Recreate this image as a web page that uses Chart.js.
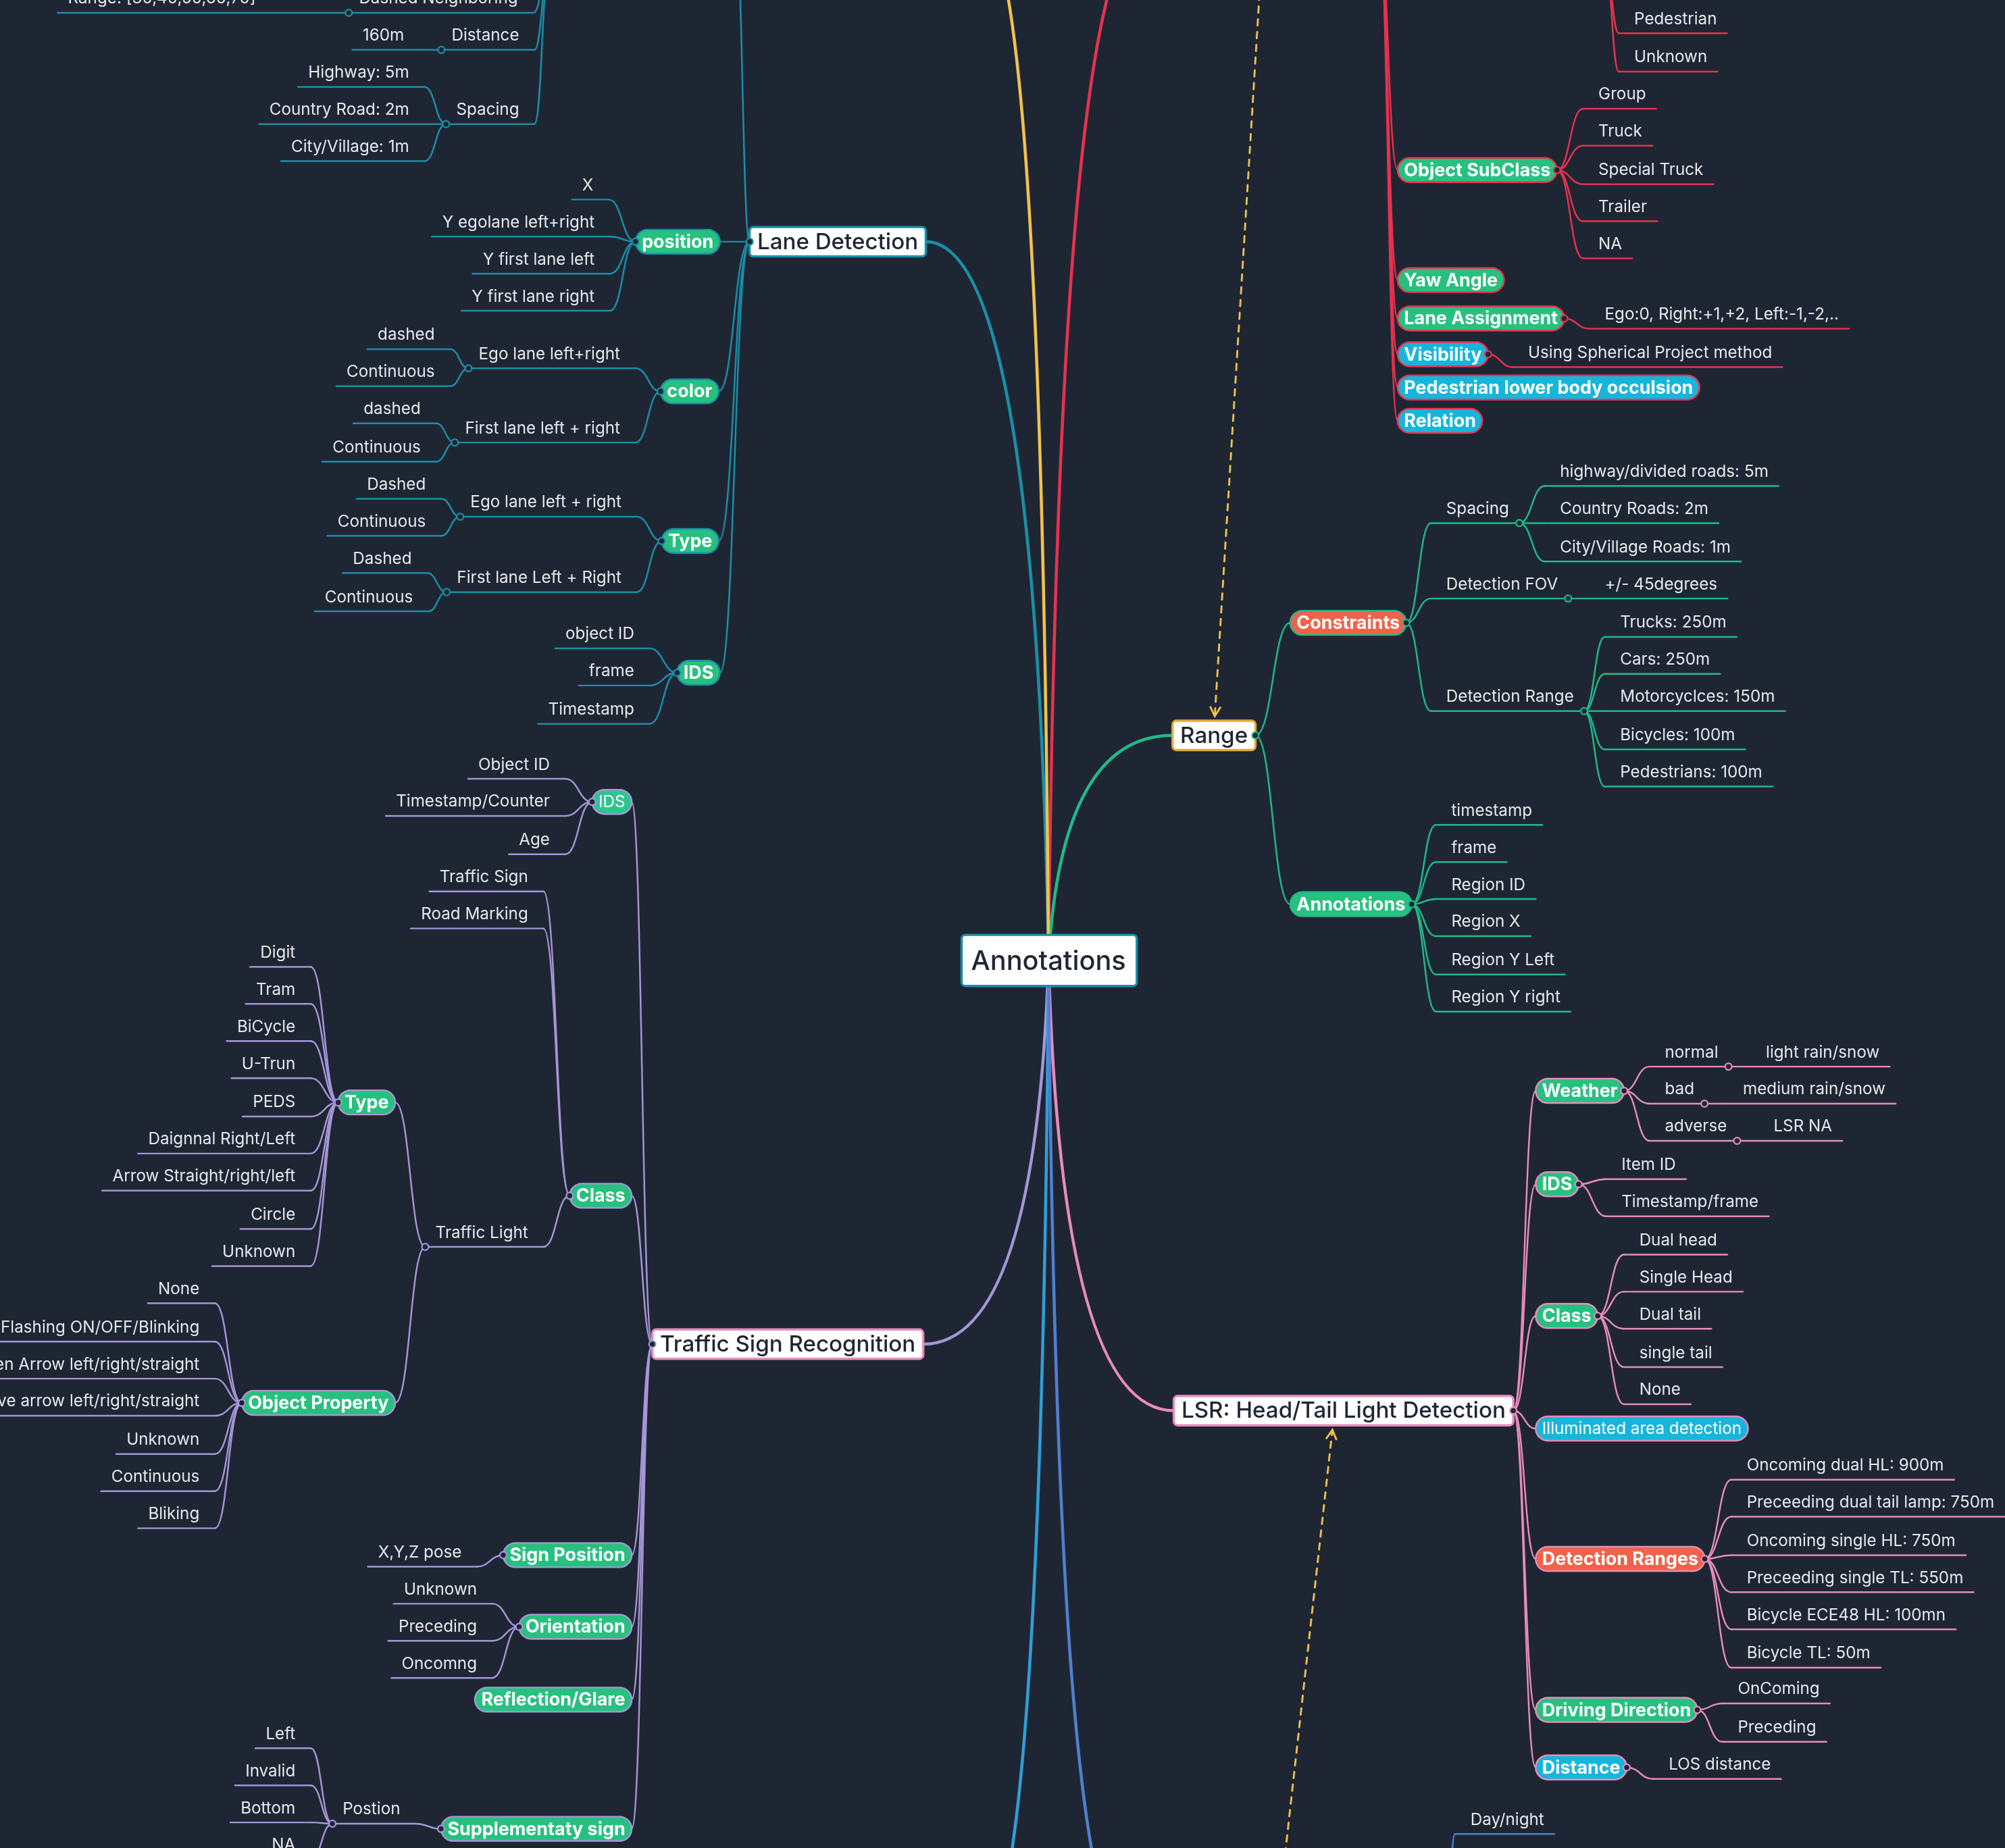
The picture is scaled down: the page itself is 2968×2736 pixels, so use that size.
<!DOCTYPE html>
<html>
<head>
<meta charset="utf-8">
<script src="https://cdn.jsdelivr.net/npm/chart.js@4"></script>
<style>
  body { margin: 0; background: #1f2633; }
  #wrap { position: relative; width: 2968px; height: 2736px; }
</style>
</head>
<body>
<div id="wrap"><canvas id="map"></canvas></div>
<script>
// map coordinates are in reference units (1568 x 1445), scaled by the chart's axes
const GREEN = '#27c07f', RED = '#f0624a', CYAN = '#17b5dc', LGREEN = '#2fc48f';

const rootNode = ['Annotations', 820, 751];

// [label, x, y, parent, kind, side, fill / out-x for hidden]
const laneNodes = [
  ['Lane Detection', 724, 189, -1, 'box', 'L'],
  ['', 575, -60, 0, 'hid', 'L'],
  ['', 430, -30, 1, 'hid', 'L'],
  ['Dashed Neighboring', 405, -1, 2],
  ['Range: [30,40,50,60,70]', 200, -1, 3],
  ['Distance', 406, 28, 2],
  ['160m', 316, 28, 5],
  ['Spacing', 406, 86, 2],
  ['Highway: 5m', 320, 57, 7],
  ['Country Road: 2m', 320, 86, 7],
  ['City/Village: 1m', 320, 115, 7],
  ['position', 563, 189, 0, 'pill', 'L', GREEN],
  ['X', 464, 145, 11],
  ['Y egolane left+right', 465, 174, 11],
  ['Y first lane left', 465, 203, 11],
  ['Y first lane right', 465, 232, 11],
  ['color', 562, 306, 0, 'pill', 'L', GREEN],
  ['Ego lane left+right', 485, 277, 16],
  ['dashed', 340, 262, 17],
  ['Continuous', 340, 291, 17],
  ['First lane left + right', 485, 335, 16],
  ['dashed', 329, 320, 20],
  ['Continuous', 329, 350, 20],
  ['Type', 562, 423, 0, 'pill', 'L', GREEN],
  ['Ego lane left + right', 486, 393, 23],
  ['Dashed', 333, 379, 24],
  ['Continuous', 333, 408, 24],
  ['First lane Left + Right', 486, 452, 23],
  ['Dashed', 322, 437, 27],
  ['Continuous', 323, 467, 27],
  ['IDS', 563, 526, 0, 'pill', 'L', GREEN],
  ['object ID', 496, 496, 30],
  ['frame', 496, 525, 30],
  ['Timestamp', 496, 555, 30]
];

const tsrNodes = [
  ['Traffic Sign Recognition', 722, 1051, -1, 'box', 'L'],
  ['IDS', 494, 627, 0, 'pillN', 'L', LGREEN],
  ['Object ID', 430, 598, 1],
  ['Timestamp/Counter', 430, 627, 1],
  ['Age', 430, 657, 1],
  ['Class', 494, 935, 0, 'pill', 'L', GREEN],
  ['Traffic Sign', 413, 686, 5],
  ['Road Marking', 413, 715, 5],
  ['Traffic Light', 413, 964, 5],
  ['Type', 309, 862, 8, 'pill', 'L', GREEN],
  ['Digit', 231, 745, 9],
  ['Tram', 231, 774, 9],
  ['BiCycle', 231, 803, 9],
  ['U-Trun', 231, 832, 9],
  ['PEDS', 231, 862, 9],
  ['Daignnal Right/Left', 231, 891, 9],
  ['Arrow Straight/right/left', 231, 920, 9],
  ['Circle', 231, 950, 9],
  ['Unknown', 231, 979, 9],
  ['Object Property', 309, 1097, 8, 'pill', 'L', GREEN],
  ['None', 156, 1008, 19],
  ['Flashing ON/OFF/Blinking', 156, 1038, 19],
  ['Green Arrow left/right/straight', 156, 1067, 19],
  ['Above arrow left/right/straight', 156, 1096, 19],
  ['Unknown', 156, 1126, 19],
  ['Continuous', 156, 1155, 19],
  ['Bliking', 156, 1184, 19],
  ['Sign Position', 494, 1216, 0, 'pill', 'L', GREEN],
  ['X,Y,Z pose', 361, 1214, 27],
  ['Orientation', 494, 1272, 0, 'pill', 'L', GREEN],
  ['Unknown', 373, 1243, 29],
  ['Preceding', 373, 1272, 29],
  ['Oncomng', 373, 1301, 29],
  ['Reflection/Glare', 494, 1329, 0, 'pill', 'L', GREEN],
  ['Supplementaty sign', 494, 1430, 0, 'pill', 'L', GREEN],
  ['Postion', 313, 1415, 34],
  ['Left', 231, 1356, 35],
  ['Invalid', 231, 1385, 35],
  ['Bottom', 231, 1414, 35],
  ['NA', 231, 1443, 35]
];

const objectNodes = [
  ['', 900, -60, -1, 'hid', 'R', 1078],
  ['', 1200, -30, 0, 'hid', 'R', 1255],
  ['Pedestrian', 1278, 15, 1],
  ['Unknown', 1278, 45, 1],
  ['Object SubClass', 1093, 133, 0, 'pill', 'R', GREEN],
  ['Group', 1250, 74, 4],
  ['Truck', 1250, 103, 4],
  ['Special Truck', 1250, 133, 4],
  ['Trailer', 1250, 162, 4],
  ['NA', 1250, 191, 4],
  ['Yaw Angle', 1093, 219, 0, 'pill', 'R', GREEN],
  ['Lane Assignment', 1093, 249, 0, 'pill', 'R', GREEN],
  ['Ego:0, Right:+1,+2, Left:-1,-2,..', 1255, 246, 11],
  ['Visibility', 1093, 277, 0, 'pill', 'R', CYAN],
  ['Using Spherical Project method', 1195, 276, 13],
  ['Pedestrian lower body occulsion', 1093, 303, 0, 'pill', 'R', CYAN],
  ['Relation', 1093, 329, 0, 'pill', 'R', CYAN]
];

const rangeNodes = [
  ['Range', 917, 575, -1, 'box', 'R'],
  ['Constraints', 1009, 487, 0, 'pill', 'R', RED],
  ['Spacing', 1131, 398, 1],
  ['highway/divided roads: 5m', 1220, 369, 2],
  ['Country Roads: 2m', 1220, 398, 2],
  ['City/Village Roads: 1m', 1220, 428, 2],
  ['Detection FOV', 1131, 457, 1],
  ['+/- 45degrees', 1255, 457, 6],
  ['Detection Range', 1131, 545, 1],
  ['Trucks: 250m', 1267, 487, 8],
  ['Cars: 250m', 1267, 516, 8],
  ['Motorcyclces: 150m', 1267, 545, 8],
  ['Bicycles: 100m', 1267, 575, 8],
  ['Pedestrians: 100m', 1267, 604, 8],
  ['Annotations', 1009, 707, 0, 'pill', 'R', GREEN],
  ['timestamp', 1135, 634, 14],
  ['frame', 1135, 663, 14],
  ['Region ID', 1135, 692, 14],
  ['Region X', 1135, 721, 14],
  ['Region Y Left', 1135, 751, 14],
  ['Region Y right', 1135, 780, 14]
];

const lsrNodes = [
  ['LSR: Head/Tail Light Detection', 918, 1103, -1, 'box', 'R'],
  ['Weather', 1201, 853, 0, 'pill', 'R', GREEN],
  ['normal', 1302, 823, 1],
  ['bad', 1302, 852, 1],
  ['adverse', 1302, 881, 1],
  ['light rain/snow', 1381, 823, 2],
  ['medium rain/snow', 1363, 852, 3],
  ['LSR NA', 1387, 881, 4],
  ['IDS', 1201, 926, 0, 'pill', 'R', GREEN],
  ['Item ID', 1268, 911, 8],
  ['Timestamp/frame', 1268, 940, 8],
  ['Class', 1201, 1029, 0, 'pill', 'R', GREEN],
  ['Dual head', 1282, 970, 11],
  ['Single Head', 1282, 999, 11],
  ['Dual tail', 1282, 1028, 11],
  ['single tail', 1282, 1058, 11],
  ['None', 1282, 1087, 11],
  ['Illuminated area detection', 1201, 1117, 0, 'pillN', 'R', CYAN],
  ['Detection Ranges', 1201, 1219, 0, 'pill', 'R', RED],
  ['Oncoming dual HL: 900m', 1366, 1146, 18],
  ['Preceeding dual tail lamp: 750m', 1366, 1175, 18],
  ['Oncoming single HL: 750m', 1366, 1205, 18],
  ['Preceeding single TL: 550m', 1366, 1234, 18],
  ['Bicycle ECE48 HL: 100mn', 1366, 1263, 18],
  ['Bicycle TL: 50m', 1366, 1293, 18],
  ['Driving Direction', 1201, 1337, 0, 'pill', 'R', GREEN],
  ['OnComing', 1359, 1321, 25],
  ['Preceding', 1359, 1351, 25],
  ['Distance', 1201, 1382, 0, 'pill', 'R', CYAN],
  ['LOS distance', 1305, 1380, 28]
];

const yellowNodes = [['', 765, -60, -1, 'hid', 'L']];
const blueNodes = [['', 765, 1520, -1, 'hid', 'L']];
const blue2Nodes = [
  ['', 885, 1520, -1, 'hid', 'R', 1130],
  ['Day/night', 1150, 1423, 0]
];

const branches = [
  { nodes: laneNodes, color: '#1a8fa8', border: '#1a8fa8' },
  { nodes: tsrNodes, color: '#a596d8', border: '#e58cbc' },
  { nodes: objectNodes, color: '#e8324f', border: '#e8324f' },
  { nodes: rangeNodes, color: '#1fba8a', border: '#e3aa3a' },
  { nodes: lsrNodes, color: '#e78cbc', border: '#e78cbc' },
  { nodes: yellowNodes, color: '#f2c14e' },
  { nodes: blueNodes, color: '#2f9fd8' },
  { nodes: blue2Nodes, color: '#4f7fd0' }
];

// dashed relationship arrows [from, to]
const arrowFrom = [[985, -5], [1005, 1450]];
const arrowTo = [[950, 560], [1042, 1118]];

const BG = '#1f2633', TXT = '#e6e8ec';
const FONTS = { text: [400, 12.8], pill: [700, 14.2], pillN: [400, 12.8], box: [500, 17.5], hid: [400, 12] };

const mindMap = {
  id: 'mindMap',
  beforeDraw(chart) {
    const c = chart.ctx;
    c.save(); c.fillStyle = BG; c.fillRect(0, 0, chart.width, chart.height); c.restore();
  },
  afterDraw(chart) {
    const c = chart.ctx, sx = chart.scales.x, sy = chart.scales.y;
    const X = v => sx.getPixelForValue(v), Y = v => sy.getPixelForValue(v);
    const k = (X(1568) - X(0)) / 1568;
    const font = kind => { const f = FONTS[kind]; return f[0] + ' ' + (f[1] * k) + 'px Inter, "Noto Sans", sans-serif'; };

    // geometry of every node, in map units
    const all = [];
    branches.forEach(b => {
      const base = [];
      b.nodes.forEach((n, i) => {
        const parent = n[3] >= 0 ? base[n[3]] : null;
        const g = { label: n[0], x: n[1], y: n[2], parent, kind: n[4] || 'text',
          side: n[5] || (parent ? parent.side : 'R'), fill: n[6], b, kids: 0 };
        c.font = font(g.kind);
        g.w = c.measureText(g.label).width / k;
        if (g.kind === 'hid') {
          g.inP = [g.x, g.y]; g.outP = [g.fill != null ? g.fill : g.x, g.y];
        } else if (g.kind === 'text') {
          if (g.side === 'R') { g.l = g.x - 12; g.r = g.x + g.w + 8; g.inP = [g.l, g.y + 11]; g.outP = [g.r, g.y + 11]; }
          else { g.r = g.x + 12; g.l = g.x - g.w - 8; g.inP = [g.r, g.y + 11]; g.outP = [g.l, g.y + 11]; }
        } else {
          const pad = g.kind === 'box' ? 6 : 5;
          if (g.side === 'R') { g.l = g.x; g.r = g.x + g.w + 2 * pad; g.inP = [g.l, g.y]; g.outP = [g.r, g.y]; }
          else { g.r = g.x; g.l = g.x - g.w - 2 * pad; g.inP = [g.r, g.y]; g.outP = [g.l, g.y]; }
        }
        if (parent) parent.kids++;
        base.push(g); all.push(g);
      });
    });

    c.save();
    c.lineCap = 'round';
    // root connectors
    all.filter(g => !g.parent).forEach(g => {
      c.strokeStyle = g.b.color; c.lineWidth = 2.4 * k;
      c.beginPath();
      c.moveTo(X(rootNode[1]), Y(rootNode[2]));
      c.quadraticCurveTo(X(rootNode[1] + (g.inP[0] - rootNode[1]) * 0.1), Y(g.inP[1]), X(g.inP[0]), Y(g.inP[1]));
      c.stroke();
    });
    // branch connectors and underlines
    all.forEach(g => {
      c.strokeStyle = g.b.color; c.lineWidth = 1.3 * k;
      if (g.parent) {
        const p = g.parent.outP, q = g.inP, mx = p[0] + (q[0] - p[0]) * 0.5;
        c.beginPath();
        c.moveTo(X(p[0]), Y(p[1]));
        c.bezierCurveTo(X(mx), Y(p[1]), X(mx), Y(q[1]), X(q[0]), Y(q[1]));
        c.stroke();
      }
      if (g.kind === 'text') {
        c.beginPath(); c.moveTo(X(g.l), Y(g.y + 11)); c.lineTo(X(g.r), Y(g.y + 11)); c.stroke();
      }
    });
    // dashed arrows
    c.strokeStyle = '#f2c14e'; c.fillStyle = '#f2c14e'; c.lineWidth = 1.5 * k;
    arrowFrom.forEach((a, i) => {
      const t = arrowTo[i];
      c.setLineDash([5 * k, 5 * k]);
      c.beginPath(); c.moveTo(X(a[0]), Y(a[1])); c.lineTo(X(t[0]), Y(t[1])); c.stroke();
      c.setLineDash([]);
      const ang = Math.atan2(Y(t[1]) - Y(a[1]), X(t[0]) - X(a[0])), L = 8 * k;
      c.beginPath();
      c.moveTo(X(t[0]) - L * Math.cos(ang - 0.5), Y(t[1]) - L * Math.sin(ang - 0.5));
      c.lineTo(X(t[0]), Y(t[1]));
      c.lineTo(X(t[0]) - L * Math.cos(ang + 0.5), Y(t[1]) - L * Math.sin(ang + 0.5));
      c.stroke();
    });

    // nodes
    const rr = (x, y, w, h, r) => { c.beginPath(); c.roundRect(x, y, w, h, r); };
    all.forEach(g => {
      if (g.kind === 'hid') return;
      c.font = font(g.kind); c.textBaseline = 'middle';
      if (g.kind === 'text') {
        c.fillStyle = TXT;
        c.textAlign = g.side === 'R' ? 'left' : 'right';
        c.fillText(g.label, X(g.x), Y(g.y));
      } else if (g.kind === 'box') {
        const h = 23;
        rr(X(g.l), Y(g.y - h / 2), (g.r - g.l) * k, h * k, 3 * k);
        c.fillStyle = '#ffffff'; c.fill();
        c.strokeStyle = g.b.border; c.lineWidth = 1.8 * k; c.stroke();
        c.fillStyle = '#1f2633'; c.textAlign = 'center';
        c.fillText(g.label, X((g.l + g.r) / 2), Y(g.y + 0.5));
      } else {
        const h = 19;
        rr(X(g.l), Y(g.y - h / 2), (g.r - g.l) * k, h * k, 9.5 * k);
        c.fillStyle = g.fill; c.fill();
        c.strokeStyle = g.b.color; c.lineWidth = 1.3 * k; c.stroke();
        c.fillStyle = '#ffffff'; c.textAlign = 'center';
        c.fillText(g.label, X((g.l + g.r) / 2), Y(g.y + 0.5));
      }
    });
    // junction dots
    all.forEach(g => {
      if (!g.kids || g.kind === 'hid') return;
      c.beginPath(); c.arc(X(g.outP[0]), Y(g.outP[1]), 2.6 * k, 0, Math.PI * 2);
      c.fillStyle = BG; c.fill(); c.strokeStyle = g.b.color; c.lineWidth = 1.2 * k; c.stroke();
    });

    // root
    c.font = '500 ' + (21 * k) + 'px Inter, "Noto Sans", sans-serif';
    rr(X(752), Y(731), 137 * k, 40 * k, 3 * k);
    c.fillStyle = '#ffffff'; c.fill();
    c.strokeStyle = '#1a8fa8'; c.lineWidth = 1.8 * k; c.stroke();
    c.fillStyle = '#1f2633'; c.textAlign = 'center'; c.textBaseline = 'middle';
    c.fillText(rootNode[0], X(rootNode[1]), Y(rootNode[2] + 1));
    c.restore();
  }
};

const points = [];
branches.forEach(b => b.nodes.forEach(n => points.push({ x: n[1], y: n[2] })));

new Chart(document.getElementById('map'), {
  type: 'scatter',
  data: { datasets: [{ data: points, pointRadius: 0, pointHoverRadius: 0 }] },
  options: {
    responsive: true,
    maintainAspectRatio: false,
    animation: false,
    devicePixelRatio: 1,
    layout: { padding: 0 },
    events: [],
    scales: {
      x: { type: 'linear', min: 0, max: 1568, display: false },
      y: { type: 'linear', min: 0, max: 1445, reverse: true, display: false }
    },
    plugins: { legend: { display: false }, tooltip: { enabled: false } }
  },
  plugins: [mindMap]
});
</script>
</body>
</html>
